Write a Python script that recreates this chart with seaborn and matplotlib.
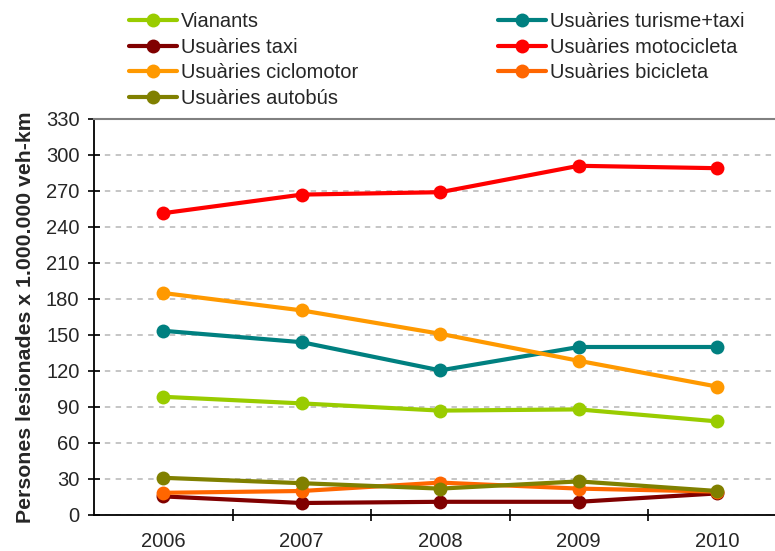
import numpy as np
import pandas as pd
import seaborn as sns
import matplotlib.pyplot as plt
from matplotlib.ticker import MultipleLocator, FixedLocator

anys = ["2006", "2007", "2008", "2009", "2010"]

vianants = [98.5, 93, 87, 88, 78]
turisme_taxi = [153.5, 144, 120.5, 140, 140]
taxi = [15.5, 10, 11, 11, 18]
motocicleta = [251.5, 267, 269, 291, 289]
ciclomotor = [185, 170.5, 151, 128.5, 107]
bicicleta = [18.5, 20, 27, 22, 19.5]
autobus = [31, 26.5, 22, 28, 20]

series = {
    "Vianants": vianants,
    "Usuàries turisme+taxi": turisme_taxi,
    "Usuàries taxi": taxi,
    "Usuàries motocicleta": motocicleta,
    "Usuàries ciclomotor": ciclomotor,
    "Usuàries bicicleta": bicicleta,
    "Usuàries autobús": autobus,
}
colors = {
    "Vianants": "#99CC00",
    "Usuàries turisme+taxi": "#008080",
    "Usuàries taxi": "#800000",
    "Usuàries motocicleta": "#FF0000",
    "Usuàries ciclomotor": "#FF9900",
    "Usuàries bicicleta": "#FF6600",
    "Usuàries autobús": "#808000",
}

rows = []
for name, vals in series.items():
    for a, v in zip(anys, vals):
        rows.append({"any": a, "valor": v, "grup": name})
df = pd.DataFrame(rows)

sns.set_style("white")
plt.rcParams["font.family"] = ["Liberation Sans", "DejaVu Sans"]

fig = plt.figure(figsize=(7.75, 5.51), dpi=100)
# plot area runs past the right edge of the picture, like the original
ax = fig.add_axes([94 / 775, 1 - 515 / 551, 692.5 / 775, 396 / 551])

sns.lineplot(data=df, x="any", y="valor", hue="grup", hue_order=list(series.keys()),
             palette=colors, marker="o", markersize=10, markeredgewidth=0,
             linewidth=3, ax=ax, legend=True, sort=False)

ax.set_xlim(-0.5, 4.5)
ax.set_ylim(0, 330)
ax.yaxis.set_major_locator(MultipleLocator(30))
ax.grid(axis="y", color="#C0C0C0", linestyle=(0, (3, 3)), linewidth=1.3)
ax.grid(axis="x", visible=False)
ax.set_axisbelow(True)

for s in ["left", "bottom"]:
    ax.spines[s].set_color("black")
    ax.spines[s].set_linewidth(1.3)
ax.spines["top"].set_color("#808080")
ax.spines["top"].set_linewidth(1.5)
ax.spines["right"].set_visible(False)

ax.tick_params(axis="y", direction="inout", length=9, width=1.2, color="black",
               labelsize=14.5, pad=6, left=True)
ax.xaxis.set_minor_locator(FixedLocator([0.5, 1.5, 2.5, 3.5]))
ax.tick_params(axis="x", which="minor", direction="inout", length=9, width=1.2,
               color="black", bottom=True)
ax.tick_params(axis="x", which="major", length=0, labelsize=14.5, pad=12.5)

ax.set_xlabel("")
ax.set_ylabel("Persones lesionades x 1.000.000 veh-km", fontsize=15.3,
              fontweight="bold", labelpad=8)

handles, labels = ax.get_legend_handles_labels()
ax.get_legend().remove()
order = [0, 2, 4, 6, 1, 3, 5]
fig.legend([handles[i] for i in order], [labels[i] for i in order],
           loc="upper left", bbox_to_anchor=(129 / 775, 1 - 12 / 551), ncol=2,
           frameon=False, fontsize=14.5, handlelength=2.4, handletextpad=0.2,
           columnspacing=6.9, labelspacing=0.33, borderpad=0, borderaxespad=0)

fig.savefig("out.png", dpi=100)
